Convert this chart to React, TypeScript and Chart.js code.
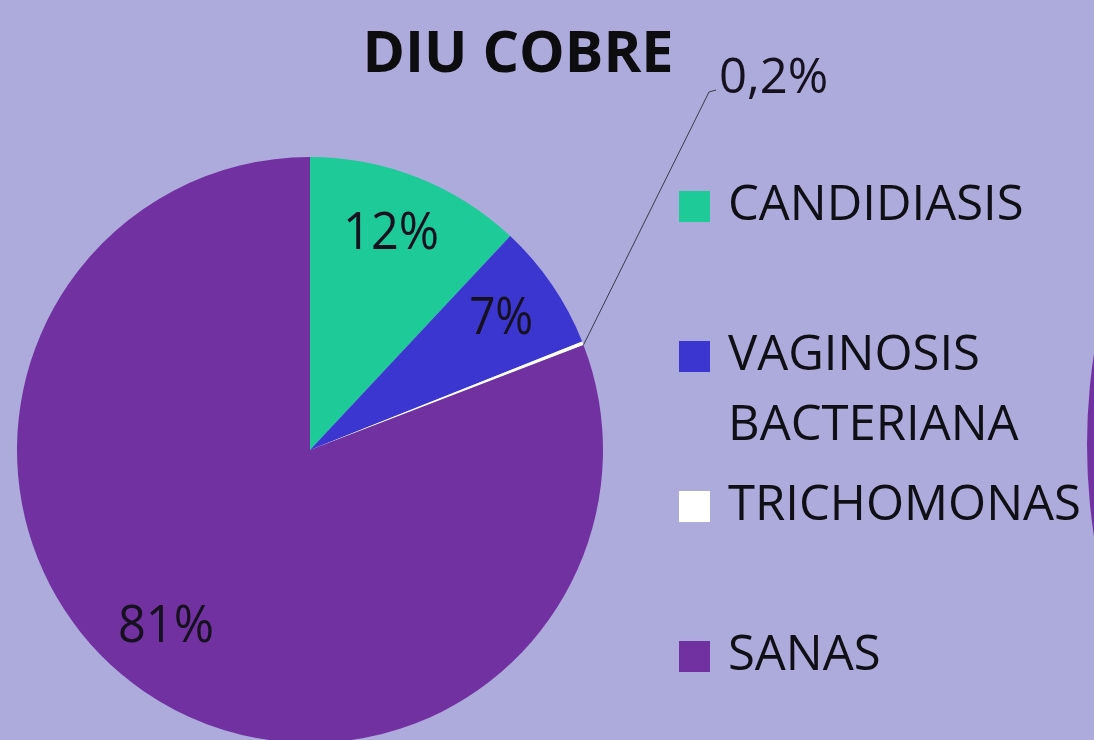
import React, { useEffect, useRef } from "react";
import { Chart, registerables } from "chart.js";

Chart.register(...registerables);

const title = "DIU COBRE";
const categories = ["CANDIDIASIS", "VAGINOSIS BACTERIANA", "TRICHOMONAS", "SANAS"];
const legendLines = [["CANDIDIASIS"], ["VAGINOSIS", "BACTERIANA"], ["TRICHOMONAS"], ["SANAS"]];
const values = [12, 7, 0.2, 81];
const valueLabels = ["12%", "7%", "0,2%", "81%"];
const colors = ["#1ECB98", "#3B36CF", "#FFFFFF", "#7131A1"];

const BG = "#ADABDB";
const FONT = "'Open Sans', 'DejaVu Sans', sans-serif";

const overlayPlugin = {
  id: "overlay",
  afterDraw(chart: any) {
    const ctx = chart.ctx as CanvasRenderingContext2D;
    const meta = chart.getDatasetMeta(0);
    ctx.save();

    // Title
    ctx.fillStyle = "#0d0d10";
    ctx.font = `bold 58px ${FONT}`;
    ctx.textAlign = "center";
    ctx.textBaseline = "middle";
    ctx.fillText(title, 518, 55, 311);

    // Slice labels
    meta.data.forEach((arc: any, i: number) => {
      const { x, y, startAngle, endAngle, outerRadius } = arc.getProps(
        ["x", "y", "startAngle", "endAngle", "outerRadius"],
        true
      );
      const mid = (startAngle + endAngle) / 2;
      ctx.fillStyle = "#15111f";
      if (values[i] < 1) {
        // leader line label
        const sx = x + Math.cos(endAngle) * outerRadius;
        const sy = y + Math.sin(endAngle) * outerRadius;
        ctx.strokeStyle = "#3a3a48";
        ctx.lineWidth = 1;
        ctx.beginPath();
        ctx.moveTo(sx, sy);
        ctx.lineTo(709, 92);
        ctx.lineTo(716, 90);
        ctx.stroke();
        ctx.font = `49px ${FONT}`;
        ctx.textAlign = "left";
        ctx.textBaseline = "middle";
        ctx.fillText(valueLabels[i], 719, 79, 112);
      } else {
        const a = mid + (i === 3 ? 0.08 : 0);
        const r = outerRadius * (i === 3 ? 0.78 : 0.79);
        const lx = x + Math.cos(a) * r;
        const ly = y + Math.sin(a) * r;
        ctx.font = `51px ${FONT}`;
        ctx.textAlign = "center";
        ctx.textBaseline = "middle";
        ctx.fillText(valueLabels[i], lx - (i === 0 ? 4 : 0), ly, valueLabels[i].length * 32);
      }
    });

    // Legend
    ctx.textAlign = "left";
    ctx.textBaseline = "middle";
    ctx.font = `49px ${FONT}`;
    legendLines.forEach((lines, i) => {
      const cy = 206 + i * 150;
      ctx.fillStyle = colors[i];
      ctx.fillRect(679, cy - 15, 31, 31);
      ctx.fillStyle = "#0f0f16";
      lines.forEach((t, j) => {
        ctx.fillText(t, 728, cy + j * 70);
      });
    });

    ctx.restore();
  },
};

export default function App() {
  const ref = useRef<HTMLCanvasElement | null>(null);

  useEffect(() => {
    document.body.style.margin = "0";
    const canvas = ref.current!;
    const chart = new Chart(canvas, {
      type: "pie",
      data: {
        labels: categories,
        datasets: [
          {
            data: values,
            backgroundColor: colors,
            borderWidth: 0,
            hoverOffset: 0,
          },
        ],
      },
      options: {
        responsive: false,
        animation: false,
        devicePixelRatio: 1,
        layout: { padding: { left: 17, right: 491, top: 157, bottom: 57 } },
        plugins: {
          legend: { display: false },
          tooltip: { enabled: false },
          title: { display: false },
        },
        events: [],
      },
      plugins: [overlayPlugin],
    });
    return () => chart.destroy();
  }, []);

  return (
    <div
      style={{
        position: "fixed",
        left: 0,
        top: 0,
        width: 1094,
        height: 740,
        overflow: "hidden",
        background: BG,
      }}
    >
      <div
        style={{
          position: "absolute",
          left: 1087,
          top: 445 - 600,
          width: 1200,
          height: 1200,
          borderRadius: "50%",
          background: "#7131A1",
        }}
      />
      <canvas
        ref={ref}
        width={1094}
        height={800}
        style={{ position: "absolute", left: 0, top: 0, width: 1094, height: 800 }}
      />
    </div>
  );
}
